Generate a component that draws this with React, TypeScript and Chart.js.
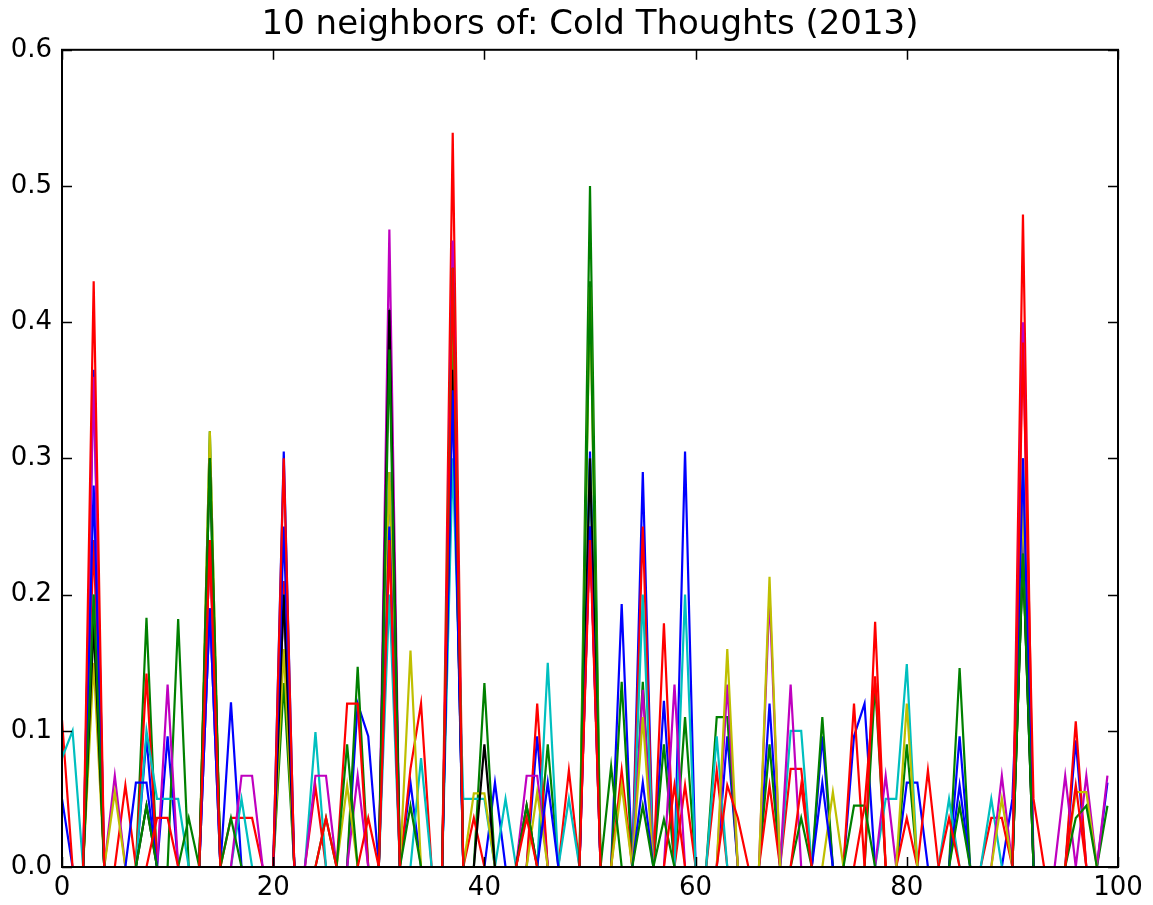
import React, { useEffect, useRef } from "react";
import { Chart, registerables } from "chart.js";

Chart.register(...registerables);

const TITLE = "10 neighbors of: Cold Thoughts (2013)";
const X_VALUES: number[] = Array.from({ length: 100 }, (_, i) => i);
const COLORS = ["#0000ff", "#008000", "#ff0000", "#00bfbf", "#bf00bf", "#bfbf00", "#000000", "#0000ff", "#008000", "#ff0000"];

const s0 = [
  0.05, 0, 0, 0.365, 0, 0, 0, 0, 0.095, 0,
  0.096, 0, 0, 0, 0.24, 0, 0.121, 0, 0, 0,
  0, 0.305, 0, 0, 0, 0, 0, 0, 0.12, 0.096,
  0, 0.29, 0, 0.062, 0, 0, 0, 0.365, 0, 0,
  0, 0.062, 0, 0, 0, 0.096, 0, 0, 0, 0,
  0.305, 0, 0, 0.193, 0, 0.29, 0, 0.122, 0, 0.305,
  0, 0, 0, 0.096, 0, 0, 0, 0.12, 0, 0,
  0, 0, 0.096, 0, 0, 0.096, 0.12, 0, 0, 0,
  0.062, 0.062, 0, 0, 0, 0.096, 0, 0, 0, 0,
  0.05, 0.25, 0, 0, 0, 0, 0.093, 0, 0, 0.062,
];
const s1 = [
  0, 0, 0, 0.18, 0, 0, 0, 0, 0.183, 0,
  0, 0.182, 0, 0, 0.32, 0, 0, 0, 0, 0,
  0, 0.135, 0, 0, 0, 0, 0, 0, 0.147, 0,
  0, 0.41, 0, 0, 0, 0, 0, 0.4, 0, 0,
  0.135, 0, 0, 0, 0, 0, 0.09, 0, 0, 0,
  0.5, 0, 0, 0.136, 0, 0.136, 0, 0.09, 0, 0.11,
  0, 0, 0.11, 0.11, 0, 0, 0, 0.09, 0, 0,
  0, 0, 0.11, 0, 0, 0, 0, 0.135, 0, 0,
  0.09, 0, 0, 0, 0, 0.146, 0, 0, 0, 0,
  0, 0.227, 0, 0, 0, 0, 0, 0, 0, 0.045,
];
const s2 = [
  0.108, 0, 0, 0.24, 0, 0, 0.06, 0, 0.142, 0,
  0, 0, 0, 0, 0.24, 0, 0.036, 0.036, 0.036, 0,
  0, 0.21, 0, 0, 0.059, 0, 0, 0.12, 0.12, 0,
  0, 0.24, 0, 0.072, 0.12, 0, 0, 0.539, 0, 0.036,
  0, 0, 0, 0, 0, 0.12, 0, 0, 0.071, 0,
  0.25, 0, 0, 0.071, 0, 0.25, 0, 0.179, 0, 0.06,
  0, 0, 0.071, 0, 0, 0, 0, 0.06, 0, 0.072,
  0.072, 0, 0, 0, 0, 0.12, 0, 0.18, 0, 0,
  0.036, 0, 0.071, 0, 0, 0, 0, 0, 0.036, 0.036,
  0, 0.479, 0, 0, 0, 0, 0.107, 0, 0, 0,
];
const s3 = [
  0.08, 0.1, 0, 0.2, 0, 0, 0, 0, 0.1, 0.05,
  0.05, 0.05, 0, 0, 0.19, 0, 0, 0.05, 0, 0,
  0, 0.2, 0, 0, 0.099, 0, 0, 0, 0, 0,
  0, 0.2, 0, 0, 0.08, 0, 0, 0.3, 0.05, 0.05,
  0.05, 0, 0.05, 0, 0, 0, 0.15, 0, 0.05, 0,
  0.3, 0, 0, 0, 0, 0.2, 0, 0, 0, 0.2,
  0, 0, 0.096, 0, 0, 0, 0, 0, 0, 0.1,
  0.1, 0, 0, 0, 0, 0, 0, 0, 0.05, 0.05,
  0.149, 0, 0, 0, 0.05, 0, 0, 0, 0.05, 0,
  0, 0.3, 0, 0, 0, 0, 0, 0, 0, 0,
];
const s4 = [
  0, 0, 0, 0.36, 0, 0.067, 0, 0, 0, 0,
  0.134, 0, 0, 0, 0.19, 0, 0, 0.067, 0.067, 0,
  0, 0.2, 0, 0, 0.067, 0.067, 0, 0, 0.067, 0,
  0, 0.468, 0, 0, 0, 0, 0, 0.46, 0, 0,
  0, 0, 0, 0, 0.067, 0.067, 0, 0, 0, 0,
  0.25, 0, 0, 0, 0, 0.13, 0, 0, 0.134, 0,
  0, 0, 0, 0.134, 0, 0, 0, 0.2, 0, 0.134,
  0, 0, 0, 0, 0, 0, 0, 0, 0.067, 0,
  0, 0, 0, 0, 0, 0, 0, 0, 0, 0.067,
  0, 0.4, 0, 0, 0, 0.067, 0, 0.067, 0, 0.067,
];
const s5 = [
  0, 0, 0, 0.15, 0, 0.055, 0, 0, 0, 0,
  0, 0, 0, 0, 0.32, 0, 0, 0, 0, 0,
  0, 0.16, 0, 0, 0, 0, 0, 0.06, 0, 0,
  0, 0.29, 0, 0.159, 0, 0, 0, 0.426, 0, 0.054,
  0.054, 0, 0, 0, 0, 0.055, 0, 0, 0, 0,
  0.426, 0, 0, 0.06, 0, 0.11, 0, 0, 0, 0,
  0, 0, 0, 0.16, 0, 0, 0, 0.213, 0, 0,
  0, 0, 0, 0.055, 0, 0, 0, 0, 0, 0,
  0.12, 0, 0, 0, 0, 0, 0, 0, 0, 0.05,
  0, 0.27, 0, 0, 0, 0, 0.055, 0.055, 0, 0,
];
const s6 = [
  0, 0, 0, 0.18, 0, 0, 0, 0, 0.045, 0,
  0, 0, 0, 0, 0.3, 0, 0, 0, 0, 0,
  0, 0.2, 0, 0, 0, 0, 0, 0, 0, 0,
  0, 0.409, 0, 0, 0, 0, 0, 0.365, 0, 0,
  0.09, 0, 0, 0, 0.045, 0, 0, 0, 0, 0,
  0.3, 0, 0, 0, 0, 0, 0, 0, 0, 0,
  0, 0, 0, 0, 0, 0, 0, 0, 0, 0,
  0, 0, 0, 0, 0, 0, 0, 0, 0, 0,
  0, 0, 0, 0, 0, 0, 0, 0, 0, 0,
  0, 0.23, 0, 0, 0, 0, 0, 0, 0, 0,
];
const s7 = [
  0, 0, 0, 0.28, 0, 0, 0, 0.062, 0.062, 0,
  0, 0, 0, 0, 0.19, 0, 0, 0, 0, 0,
  0, 0.25, 0, 0, 0, 0, 0, 0, 0, 0,
  0, 0.25, 0, 0, 0, 0, 0, 0.35, 0, 0,
  0, 0, 0, 0, 0, 0, 0.062, 0, 0, 0,
  0.25, 0, 0, 0, 0, 0.062, 0, 0, 0, 0,
  0, 0, 0, 0, 0, 0, 0, 0, 0, 0,
  0, 0, 0.062, 0, 0, 0, 0, 0, 0, 0,
  0, 0, 0, 0, 0, 0.06, 0, 0, 0, 0,
  0, 0.3, 0, 0, 0, 0, 0, 0, 0, 0,
];
const s8 = [
  0, 0, 0, 0.2, 0, 0, 0, 0, 0.045, 0,
  0, 0, 0.036, 0, 0.3, 0, 0.036, 0, 0, 0,
  0, 0, 0, 0, 0, 0.036, 0, 0.09, 0, 0,
  0, 0.38, 0, 0.045, 0, 0, 0, 0.44, 0, 0,
  0, 0, 0, 0, 0.045, 0, 0, 0, 0, 0,
  0.43, 0, 0.074, 0, 0, 0.045, 0, 0.035, 0, 0,
  0, 0, 0, 0, 0, 0, 0, 0, 0, 0,
  0.036, 0, 0, 0, 0, 0.045, 0.045, 0, 0, 0,
  0, 0, 0, 0, 0, 0.045, 0, 0, 0, 0,
  0, 0.23, 0, 0, 0, 0, 0.036, 0.045, 0, 0,
];
const s9 = [
  0, 0, 0, 0.43, 0, 0, 0, 0, 0, 0.036,
  0.036, 0, 0, 0, 0.24, 0, 0, 0, 0, 0,
  0, 0.3, 0, 0, 0, 0.036, 0, 0, 0, 0.036,
  0, 0.24, 0, 0, 0, 0, 0, 0.44, 0, 0,
  0, 0, 0, 0, 0.036, 0, 0, 0, 0, 0,
  0.24, 0, 0, 0, 0, 0, 0, 0, 0.06, 0,
  0, 0, 0, 0.06, 0.036, 0, 0, 0, 0, 0,
  0.06, 0, 0, 0, 0, 0, 0.045, 0.14, 0, 0,
  0, 0, 0, 0, 0.036, 0, 0, 0, 0, 0,
  0, 0.385, 0.05, 0, 0, 0, 0.06, 0, 0, 0,
];

const SERIES = [s0, s1, s2, s3, s4, s5, s6, s7, s8, s9];

const FONT = "'DejaVu Sans', sans-serif";

const framePlugin = {
  id: "mplFrame",
  afterDatasetsDraw(chart: any) {
    const { ctx, chartArea } = chart;
    const { left, right, top, bottom } = chartArea;
    const xs = chart.scales.x;
    const ys = chart.scales.y;
    const tl = 10;
    ctx.save();
    ctx.strokeStyle = "#000";
    ctx.lineWidth = 1.5;
    ctx.beginPath();
    for (const t of xs.ticks) {
      const px = Math.round(xs.getPixelForValue(t.value)) + 0.5;
      ctx.moveTo(px, bottom);
      ctx.lineTo(px, bottom - tl);
      ctx.moveTo(px, top);
      ctx.lineTo(px, top + tl);
    }
    for (const t of ys.ticks) {
      const py = Math.round(ys.getPixelForValue(t.value)) + 0.5;
      ctx.moveTo(left, py);
      ctx.lineTo(left + tl, py);
      ctx.moveTo(right, py);
      ctx.lineTo(right - tl, py);
    }
    ctx.stroke();
    ctx.lineWidth = 2;
    ctx.strokeRect(left, top, right - left, bottom - top);
    ctx.restore();
  },
};

export default function App() {
  const ref = useRef<HTMLCanvasElement | null>(null);
  useEffect(() => {
    document.body.style.margin = "0";
    const canvas = ref.current;
    if (!canvas) return;
    const chart = new Chart(canvas, {
      type: "line",
      data: {
        labels: X_VALUES,
        datasets: SERIES.map((s, i) => ({
          label: `neighbor ${i + 1}`,
          data: s.map((v, j) => ({ x: X_VALUES[j], y: v })),
          borderColor: COLORS[i],
          backgroundColor: COLORS[i],
          borderWidth: 2.2,
          pointRadius: 0,
          tension: 0,
          fill: false,
          order: SERIES.length - i,
        })),
      },
      options: {
        responsive: false,
        animation: false,
        layout: { padding: { left: 0, right: 35, top: 0, bottom: 0 } },
        plugins: {
          legend: { display: false },
          tooltip: { enabled: false },
          title: {
            display: true,
            fullSize: false,
            text: TITLE,
            color: "#000",
            font: { family: FONT, size: 34, weight: "normal" },
            padding: { top: 5, bottom: 4 },
          },
        },
        scales: {
          x: {
            type: "linear",
            min: 0,
            max: 100,
            grid: { display: false, drawTicks: false },
            border: { display: false },
            ticks: {
              stepSize: 20,
              color: "#000",
              font: { family: FONT, size: 26 },
              padding: 6,
              maxRotation: 0,
            },
            afterFit: (s: any) => {
              s.height = 38;
            },
          },
          y: {
            type: "linear",
            min: 0,
            max: 0.6,
            grid: { display: false, drawTicks: false },
            border: { display: false },
            ticks: {
              stepSize: 0.1,
              color: "#000",
              font: { family: FONT, size: 26 },
              padding: 10,
              callback: (v: any) => Number(v).toFixed(1),
            },
            afterFit: (s: any) => {
              s.width = 62;
            },
          },
        },
      },
      plugins: [framePlugin],
    });
    return () => chart.destroy();
  }, []);
  return (
    <canvas ref={ref} width={1153} height={905} style={{ display: "block" }} />
  );
}
